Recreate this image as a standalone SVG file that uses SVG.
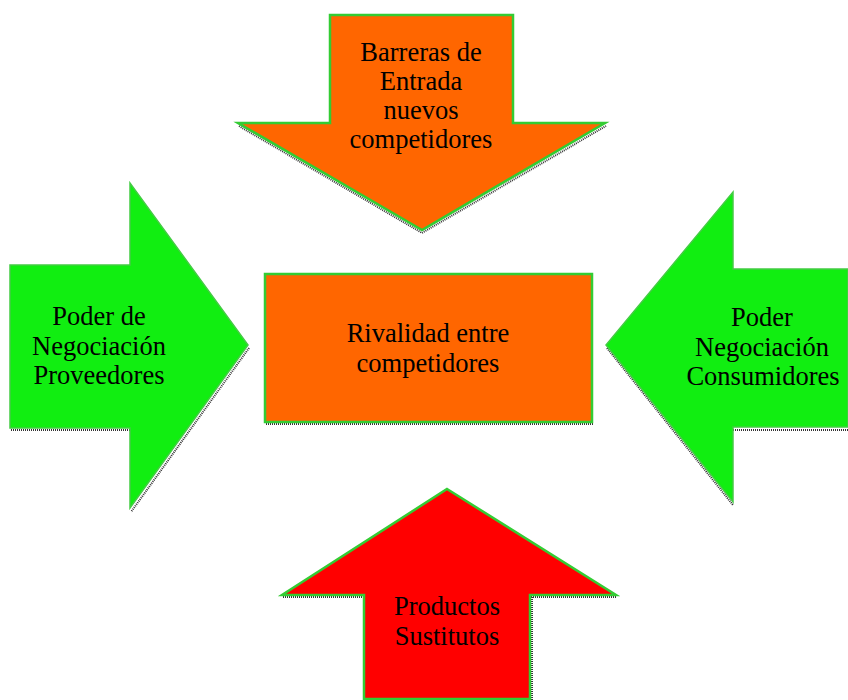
<svg xmlns="http://www.w3.org/2000/svg" width="848" height="700" viewBox="0 0 848 700">
<style>
.sh{fill:none;stroke:#333;stroke-width:2;stroke-dasharray:1 1}
.org{fill:#ff6600;stroke:#33cc33;stroke-width:2.5}
.grn{fill:#11ee11;stroke:#44cc44;stroke-width:1.5}
.red{fill:#ff0000;stroke:#33cc33;stroke-width:2.5}
text{font-family:'Liberation Serif','Times New Roman',serif;font-size:26.5px;fill:#000;text-anchor:middle}
</style>
<rect width="848" height="700" fill="#fff"/>
<g id="barreras">
<polyline class="sh" points="239,126 422,233 606,126"/>
<polygon class="org" points="330,15 513,15 513,123 605,123 422,230 238,123 330,123"/>
<text x="421" y="61">Barreras de</text>
<text x="421" y="90">Entrada</text>
<text x="421" y="119">nuevos</text>
<text x="421" y="148">competidores</text>
</g>
<g id="proveedores">
<polyline class="sh" points="11,430 131,430"/>
<polyline class="sh" points="249,348 131,512"/>
<polygon class="grn" points="10,265 130,265 130,183 248,345 130,508 130,428 10,428"/>
<text x="99" y="325">Poder de</text>
<text x="99" y="355">Negociación</text>
<text x="99" y="384">Proveedores</text>
</g>
<g id="consumidores">
<polyline class="sh" points="607,348 733,505"/>
<polyline class="sh" points="733,430 848,430"/>
<polygon class="grn" points="848,269 733,269 733,192 606,345 733,502 733,427 848,427"/>
<text x="762" y="326">Poder</text>
<text x="762" y="356">Negociación</text>
<text x="763" y="385">Consumidores</text>
</g>
<g id="sustitutos">
<polyline class="sh" points="283,597 364,597"/>
<polyline class="sh" points="531,597 616,597"/>
<polyline class="sh" points="532,597 532,700"/>
<polygon class="red" points="447,489 616,595 530,595 530,699 364,699 364,595 282,595"/>
<text x="447" y="615">Productos</text>
<text x="447" y="645">Sustitutos</text>
</g>
<g id="rivalidad">
<polyline class="sh" points="266,424 593,424"/>
<rect class="org" x="265" y="274" width="327" height="148"/>
<text x="428" y="342">Rivalidad entre</text>
<text x="428" y="372">competidores</text>
</g>
<g id="connectors"></g>
</svg>
